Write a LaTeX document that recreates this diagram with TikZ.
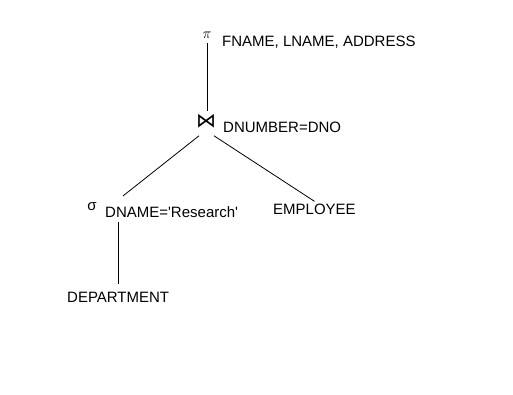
\documentclass[tikz,border=0pt]{standalone}
\usepackage{fix-cm}
\usepackage{fontspec}
\setmainfont{Liberation Sans}
\newfontfamily\symfont{DejaVu Sans}
\tikzset{
	attr/.style={anchor=base west, inner sep=0pt, font=\fontsize{15}{18}\selectfont},
	op/.style={anchor=base, inner sep=0pt, font=\fontsize{15}{18}\selectfont},
	edge/.style={line width=0.8pt}
}
\begin{document}
\begin{tikzpicture}[x=1pt,y=-1pt]
	\useasboundingbox (0,0) rectangle (513,394);
	\node[op] (proj) at (207,38) {$\pi$};
	\node[attr] (projlist) at (222,46) {FNAME, LNAME, ADDRESS};
	\node[op, font=\fontsize{20}{22}\symfont] (join) at (206,127) {⋈};
	\node[attr] (joincond) at (223,132) {DNUMBER=DNO};
	\node[op] (sel) at (92,210) {σ};
	\node[attr] (selcond) at (105,217) {DNAME=\textquotesingle Research\textquotesingle};
	\node[attr] (emp) at (273,214) {EMPLOYEE};
	\node[attr] (dept) at (67,302) {DEPARTMENT};
	\draw[edge] ([shift={(0,5)}]proj.south) -- ([shift={(0,-3)}]proj.south |- join.north);
	\draw[edge] ([shift={(-7,8)}]join.south) -- ([shift={(18,-10)}]selcond.north west);
	\draw[edge] ([shift={(8,8)}]join.south) -- ([shift={(0,-2)}]emp.north);
	\draw[edge] ([shift={(0,5)}]dept.north |- selcond.south) -- ([shift={(0,-7)}]dept.north);
\end{tikzpicture}
\end{document}
